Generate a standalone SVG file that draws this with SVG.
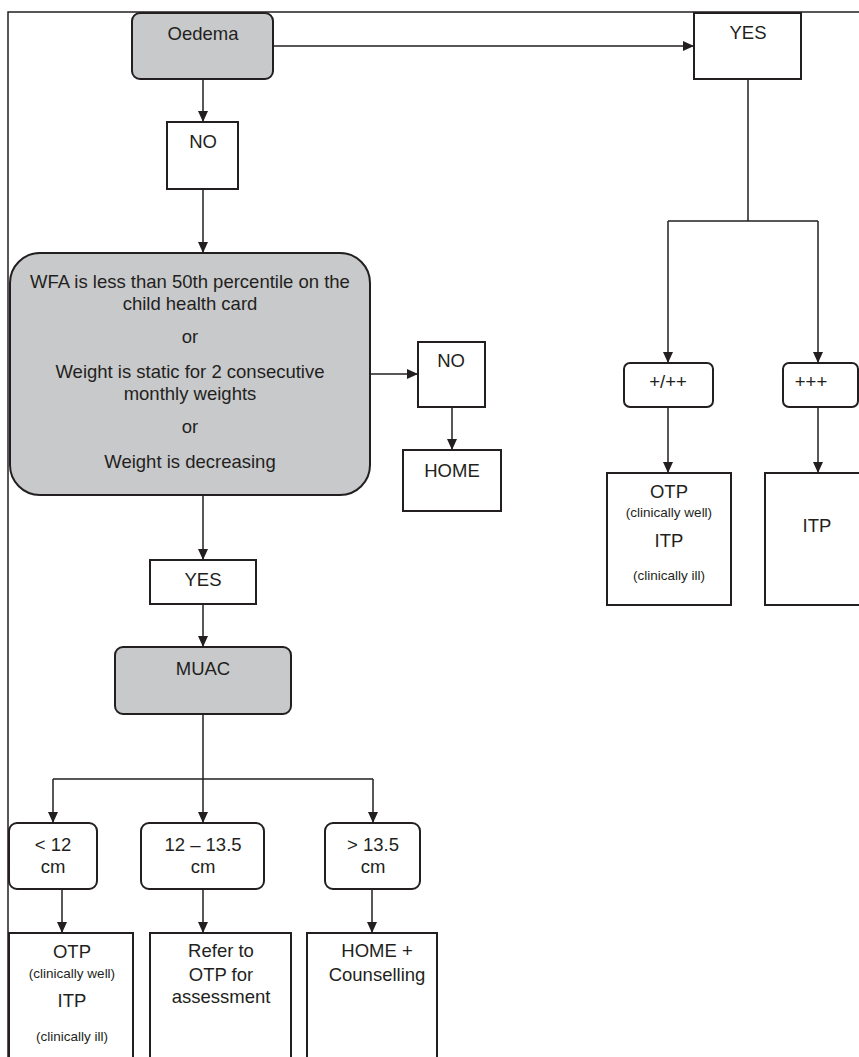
<svg xmlns="http://www.w3.org/2000/svg" width="859" height="1057" viewBox="0 0 859 1057">
<style>
.box{fill:#fff;stroke:#231f20;stroke-width:2}
.grey{fill:#c8c9cb;stroke:#231f20;stroke-width:2}
.t{font-family:"Liberation Sans",Arial,sans-serif;font-size:18.5px;fill:#231f20;text-anchor:middle}
.s{font-family:"Liberation Sans",Arial,sans-serif;font-size:13.5px;fill:#231f20;text-anchor:middle}
.c{fill:none;stroke:#231f20;stroke-width:1.5}
.a{marker-end:url(#arr)}
</style>
<defs>
<marker id="arr" markerUnits="userSpaceOnUse" markerWidth="12" markerHeight="12" refX="11" refY="5" orient="auto" viewBox="0 0 12 10">
<path d="M0,0 L11,5 L0,10 Z" fill="#231f20"/>
</marker>
</defs>
<g id="frame"><path class="c" d="M8,1057 V12 H859" stroke-width="2"/></g>
<g id="connectors">
<path class="c a" d="M203,79 V122"/>
<path class="c a" d="M203,189 V253"/>
<path class="c a" d="M273,46 H694"/>
<path class="c" d="M748,79 V221 M668,221 H818"/>
<path class="c a" d="M668,221 V363"/>
<path class="c a" d="M818,221 V363"/>
<path class="c a" d="M668,407 V473"/>
<path class="c a" d="M818,407 V473"/>
<path class="c a" d="M370,374 H418"/>
<path class="c a" d="M452,407 V450"/>
<path class="c a" d="M203,495 V560"/>
<path class="c a" d="M203,604 V647"/>
<path class="c" d="M203,714 V779 M53,779 H373"/>
<path class="c a" d="M53,779 V823"/>
<path class="c a" d="M203,779 V823"/>
<path class="c a" d="M373,779 V823"/>
<path class="c a" d="M62,889 V933"/>
<path class="c a" d="M203,889 V933"/>
<path class="c a" d="M372,889 V933"/>
</g>
<g id="oedema"><rect class="grey" x="132" y="13" width="141" height="66" rx="8"/><text class="t" x="203" y="40">Oedema</text></g>
<g id="no1"><rect class="box" x="167" y="122" width="71" height="67"/><text class="t" x="203" y="148">NO</text></g>
<g id="yes1"><rect class="box" x="694" y="13" width="107" height="66"/><text class="t" x="748" y="39">YES</text></g>
<g id="plus"><rect class="box" x="624" y="363" width="89" height="44" rx="6"/><text class="t" x="668" y="388">+/++</text></g>
<g id="plus3"><rect class="box" x="783" y="363" width="75" height="44" rx="6"/><text class="t" x="811" y="388">+++</text></g>
<g id="otp1"><rect class="box" x="607" y="473" width="124" height="132"/>
<text class="t" x="669" y="498">OTP</text><text class="s" x="669" y="517">(clinically well)</text>
<text class="t" x="669" y="547">ITP</text><text class="s" x="669" y="580">(clinically ill)</text></g>
<g id="itp1"><rect class="box" x="765" y="473" width="100" height="132"/><text class="t" x="817" y="532">ITP</text></g>
<g id="wfa"><rect class="grey" x="10" y="253" width="360" height="242" rx="30"/>
<text class="t" x="190" y="288">WFA is less than 50th percentile on the</text>
<text class="t" x="190" y="310">child health card</text>
<text class="t" x="190" y="343">or</text>
<text class="t" x="190" y="378">Weight is static for 2 consecutive</text>
<text class="t" x="190" y="400">monthly weights</text>
<text class="t" x="190" y="433">or</text>
<text class="t" x="190" y="468">Weight is decreasing</text></g>
<g id="no2"><rect class="box" x="418" y="342" width="67" height="65"/><text class="t" x="451" y="367">NO</text></g>
<g id="home"><rect class="box" x="403" y="450" width="98" height="61"/><text class="t" x="452" y="477">HOME</text></g>
<g id="yes2"><rect class="box" x="150" y="560" width="106" height="44"/><text class="t" x="203" y="586">YES</text></g>
<g id="muac"><rect class="grey" x="115" y="647" width="176" height="67" rx="8"/><text class="t" x="203" y="675">MUAC</text></g>
<g id="lt12"><rect class="box" x="9" y="823" width="88" height="66" rx="8"/><text class="t" x="53" y="851">&lt; 12</text><text class="t" x="53" y="873">cm</text></g>
<g id="mid"><rect class="box" x="141" y="823" width="123" height="66" rx="8"/><text class="t" x="203" y="851">12 – 13.5</text><text class="t" x="203" y="873">cm</text></g>
<g id="gt135"><rect class="box" x="325" y="823" width="95" height="66" rx="8"/><text class="t" x="373" y="851">&gt; 13.5</text><text class="t" x="373" y="873">cm</text></g>
<g id="otp2"><rect class="box" x="9" y="933" width="124" height="130"/>
<text class="t" x="72" y="958">OTP</text><text class="s" x="72" y="978">(clinically well)</text>
<text class="t" x="72" y="1007">ITP</text><text class="s" x="72" y="1041">(clinically ill)</text></g>
<g id="refer"><rect class="box" x="150" y="933" width="141" height="130"/>
<text class="t" x="221" y="957">Refer to</text><text class="t" x="221" y="981">OTP for</text><text class="t" x="221" y="1003">assessment</text></g>
<g id="homec"><rect class="box" x="307" y="933" width="130" height="130"/>
<text class="t" x="377" y="957">HOME +</text><text class="t" x="377" y="981">Counselling</text></g>
</svg>
